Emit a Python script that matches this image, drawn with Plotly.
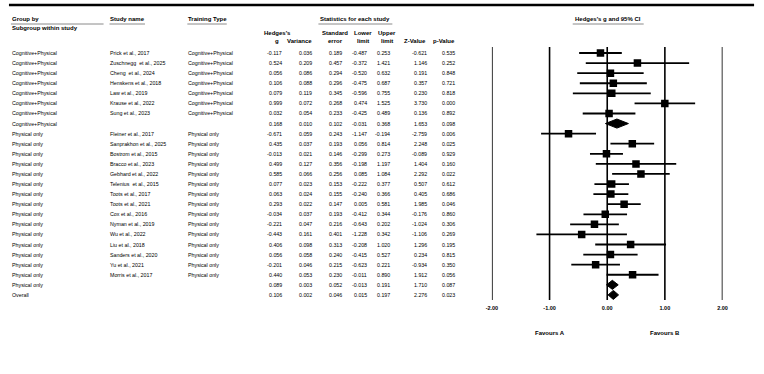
import plotly.graph_objects as go

# ---------------- data ----------------
groups = ["Cognitive+Physical"] * 8 + ["Physical only"] * 16 + ["Overall"]
studies = ["Prick et al., 2017", "Zuschnegg  et al., 2025", "Cheng  et al., 2024",
           "Henskens et al., 2018", "Law et al., 2019", "Krause et al., 2022",
           "Sung et al., 2023", "",
           "Fleiner et al., 2017", "Sanprakhon et al., 2025", "Bostrom et al., 2015",
           "Bracco et al., 2023", "Gebhard et al., 2022", "Telenius  et al., 2015",
           "Toots et al., 2017", "Toots et al., 2021", "Cox et al., 2016",
           "Nyman et al., 2019", "Wu et al., 2022", "Liu et al., 2018",
           "Sanders et al., 2020", "Yu et al., 2021", "Morris et al., 2017", "", ""]
training = ["Cognitive+Physical"] * 7 + [""] + ["Physical only"] * 15 + ["", ""]
kinds = ["study"] * 7 + ["sub"] + ["study"] * 15 + ["sub", "overall"]

hedges_g = [-0.117, 0.524, 0.056, 0.106, 0.079, 0.999, 0.032, 0.168,
            -0.671, 0.435, -0.013, 0.499, 0.585, 0.077, 0.063, 0.293, -0.034,
            -0.221, -0.443, 0.406, 0.056, -0.201, 0.440, 0.089, 0.106]
variance = [0.036, 0.209, 0.086, 0.088, 0.119, 0.072, 0.054, 0.010,
            0.059, 0.037, 0.021, 0.127, 0.066, 0.023, 0.024, 0.022, 0.037,
            0.047, 0.161, 0.098, 0.058, 0.046, 0.053, 0.003, 0.002]
std_err = [0.189, 0.457, 0.294, 0.296, 0.345, 0.268, 0.233, 0.102,
           0.243, 0.193, 0.146, 0.356, 0.256, 0.153, 0.155, 0.147, 0.193,
           0.216, 0.401, 0.313, 0.240, 0.215, 0.230, 0.052, 0.046]
lower = [-0.487, -0.372, -0.520, -0.475, -0.596, 0.474, -0.425, -0.031,
         -1.147, 0.056, -0.299, -0.198, 0.085, -0.222, -0.240, 0.005, -0.412,
         -0.643, -1.228, -0.208, -0.415, -0.623, -0.011, -0.013, 0.015]
upper = [0.253, 1.421, 0.632, 0.687, 0.755, 1.525, 0.489, 0.368,
         -0.194, 0.814, 0.273, 1.197, 1.084, 0.377, 0.366, 0.581, 0.344,
         0.202, 0.342, 1.020, 0.527, 0.221, 0.890, 0.191, 0.197]
z_value = [-0.621, 1.146, 0.191, 0.357, 0.230, 3.730, 0.136, 1.653,
           -2.759, 2.248, -0.089, 1.404, 2.292, 0.507, 0.405, 1.985, -0.176,
           -1.024, -1.106, 1.296, 0.234, -0.934, 1.912, 1.710, 2.276]
p_value = [0.535, 0.252, 0.848, 0.721, 0.818, 0.000, 0.892, 0.098,
           0.006, 0.025, 0.929, 0.160, 0.022, 0.612, 0.686, 0.046, 0.860,
           0.306, 0.269, 0.195, 0.815, 0.350, 0.056, 0.087, 0.023]

x_ticks = [-2, -1, 0, 1, 2]
x_tick_labels = ["-2.00", "-1.00", "0.00", "1.00", "2.00"]
favour_labels = ["Favours A", "Favours B"]
favour_pos = [-1, 1]

# ---------------- layout constants ----------------
W, H = 764, 374
ROW0, ROWH = 53.0, 10.08          # pixel y of first row, row pitch
PLOT_BOTTOM = 300.0               # pixel y of bottom of forest area
FONT = "Liberation Sans, Arial, sans-serif"
FS = 5.3
HFS = 6.0
n = len(hedges_g)


def py(pix):  # pixel y -> paper y
    return 1 - pix / H


def px(pix):  # pixel x -> paper x
    return pix / W


y_top = -ROW0 / ROWH
y_bot = (PLOT_BOTTOM - ROW0) / ROWH

fig = go.Figure()

# CI whiskers
lx, ly = [], []
for i in range(n):
    if kinds[i] == "study":
        lx += [lower[i], upper[i], None]
        ly += [i, i, None]
fig.add_trace(go.Scatter(x=lx, y=ly, mode="lines", line=dict(color="black", width=1.8),
                         hoverinfo="skip", showlegend=False))
# point estimates
sx = [hedges_g[i] for i in range(n) if kinds[i] == "study"]
sy = [i for i in range(n) if kinds[i] == "study"]
fig.add_trace(go.Scatter(x=sx, y=sy, mode="markers",
                         marker=dict(symbol="square", size=7.5, color="black"),
                         showlegend=False))
# summary diamonds
dh = 0.45
for i in range(n):
    if kinds[i] != "study":
        fig.add_trace(go.Scatter(
            x=[lower[i], hedges_g[i], upper[i], hedges_g[i], lower[i]],
            y=[i, i - dh, i, i + dh, i],
            mode="lines", fill="toself", fillcolor="black",
            line=dict(color="black", width=1), showlegend=False, hoverinfo="skip"))

shapes = []
for t in x_ticks:
    shapes.append(dict(type="line", xref="x", yref="y", x0=t, x1=t,
                       y0=n - 0.5, y1=-0.6, line=dict(color="black", width=1.6)))
# top rule
shapes.append(dict(type="line", xref="paper", yref="paper", x0=px(3), x1=px(759),
                   y0=py(5), y1=py(5), line=dict(color="black", width=2.5)))
# header underlines
for a, b in [(5, 99), (105, 141), (184, 224), (317, 392), (575, 647)]:
    shapes.append(dict(type="line", xref="paper", yref="paper", x0=px(a), x1=px(b),
                       y0=py(24), y1=py(24), line=dict(color="#8a8a8a", width=1)))

ann = []


def txt(s, x, y, anchor="left", bold=False, size=FS, yref="paper"):
    ann.append(dict(text=s, x=px(x), y=(py(y) if yref == "paper" else y),
                    xref="paper", yref=yref, xanchor=anchor, yanchor="middle",
                    showarrow=False, borderpad=0,
                    font=dict(family=FONT, size=size, color="black",
                              weight="bold" if bold else "normal")))


# headers
txt("Group by", 5, 19, bold=True, size=HFS)
txt("Subgroup within study", 5, 28, bold=True, size=HFS)
txt("Study name", 105, 19, bold=True, size=HFS)
txt("Training Type", 184, 19, bold=True, size=HFS)
txt("Statistics for each study", 354, 19, anchor="center", bold=True, size=HFS)
txt("Hedges's g and 95% CI", 611, 19, anchor="center", bold=True, size=HFS)
for s, x, y in [("Hedges's", 275, 33), ("g", 275, 41), ("Variance", 298, 41),
                ("Standard", 334, 33), ("error", 334, 41), ("Lower", 362, 33),
                ("limit", 362, 41), ("Upper", 387, 33), ("limit", 387, 41),
                ("Z-Value", 415, 41), ("p-Value", 444, 41)]:
    txt(s, x, y, anchor="center", bold=True, size=HFS)

# table rows
cols = [hedges_g, variance, std_err, lower, upper, z_value, p_value]
col_right = [281, 311, 342, 367, 391, 428, 457]
for i in range(n):
    txt(groups[i], 5, i, yref="y")
    if studies[i]:
        txt(studies[i], 104, i, yref="y")
    if training[i]:
        txt(training[i], 184, i, yref="y")
    for c, xr in zip(cols, col_right):
        txt(f"{c[i]:.3f}", xr, i, anchor="right", yref="y")

for lab, pos in zip(favour_labels, favour_pos):
    ann.append(dict(text=lab, x=pos, y=py(333), xref="x", yref="paper",
                    xanchor="center", yanchor="middle", showarrow=False,
                    font=dict(family=FONT, size=HFS, color="black", weight="bold")))

fig.update_layout(
    width=W, height=H, autosize=False,
    margin=dict(l=0, r=0, t=0, b=0),
    paper_bgcolor="white", plot_bgcolor="white",
    shapes=shapes, annotations=ann, showlegend=False,
    xaxis=dict(domain=[px(493), px(727)], range=[-2, 2], tickvals=x_ticks,
               ticktext=x_tick_labels, showgrid=False, zeroline=False,
               showline=False, ticks="outside", ticklen=2,
               tickcolor="rgba(0,0,0,0)",
               tickfont=dict(family=FONT, size=5.5, color="black", weight="bold")),
    yaxis=dict(domain=[1 - PLOT_BOTTOM / H, 1], range=[y_bot, y_top],
               visible=False, showgrid=False, zeroline=False),
)

fig.write_html("out.html")
